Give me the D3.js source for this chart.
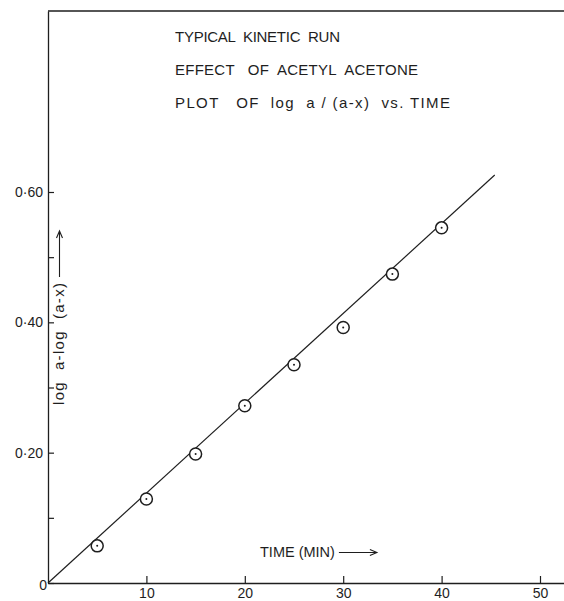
<!DOCTYPE html>
<html>
<head>
<meta charset="utf-8">
<script src="https://cdn.jsdelivr.net/npm/d3@7"></script>
<style>
  body { margin: 0; background: #fff; }
  svg { display: block; }
  text { font-family: "Liberation Sans", "DejaVu Sans", sans-serif; fill: #1e1e1e; }
</style>
</head>
<body>
<svg id="chart" width="564" height="601"></svg>
<script>
// data
const times = [5, 10, 15, 20, 25, 30, 35, 40];
const logRatio = [0.057, 0.129, 0.198, 0.272, 0.335, 0.392, 0.474, 0.545];

// drawn straight line (fit through origin)
const fitTime = [0, 45.4];
const fitValue = [0, 0.626];

const xTicks = [10, 20, 30, 40, 50];
const yTicks = [0, 0.1, 0.2, 0.3, 0.4, 0.5, 0.6];
const yLabelled = [0, 0.2, 0.4, 0.6];

const titleLines = [
  "TYPICAL  KINETIC  RUN",
  "EFFECT   OF  ACETYL  ACETONE",
  "PLOT   OF  log  a / (a-x)  vs. TIME"
];
// widths of the lettered title lines on the sheet
const titleWidths = [165, 243, 275];

const W = 564, H = 601;
const ink = "#1e1e1e";
const svg = d3.select("#chart");

// arrow drawn after a label, in the label's own frame
function arrowAfter(g, textSel, len, gap) {
  const set = +textSel.attr("textLength");
  const x0 = (set || textSel.node().getComputedTextLength()) + gap;
  const yMid = -4.5;
  g.append("path")
    .attr("d", `M${x0},${yMid}H${x0 + len}M${x0 + len - 7},${yMid - 3}L${x0 + len},${yMid}L${x0 + len - 7},${yMid + 3}`)
    .attr("fill", "none")
    .attr("stroke", ink)
    .attr("stroke-width", 1.1);
}

// scales
const x = d3.scaleLinear().domain([0, 50]).range([48, 540]);
const y = d3.scaleLinear().domain([0, 0.6]).range([583, 192]);

// axis scales run to the edges of the sheet
const xAxisScale = x.copy().domain([0, x.invert(W)]).range([48, W]);
const yAxisScale = y.copy().domain([0, y.invert(11)]).range([583, 11]);

// x axis, ticks pointing up
const gx = svg.append("g")
  .attr("transform", `translate(0, ${y(0)})`)
  .call(d3.axisBottom(xAxisScale)
    .tickValues(xTicks)
    .tickSize(-7)
    .tickSizeOuter(0)
    .tickPadding(5)
    .tickFormat(d3.format("d")));

// y axis, ticks pointing right, labels left
const gy = svg.append("g")
  .attr("transform", `translate(${x(0)}, 0)`)
  .call(d3.axisLeft(yAxisScale)
    .tickValues(yTicks)
    .tickSize(-6)
    .tickSizeOuter(0)
    .tickPadding(5)
    .tickFormat(d => {
      if (!yLabelled.includes(d)) return "";
      return d === 0 ? "0" : d3.format(".2f")(d).replace(".", "\u00b7");
    }));

[gx, gy].forEach(g => {
  g.select(".domain").attr("stroke", ink).attr("stroke-width", 1.3);
  g.selectAll(".tick line").attr("stroke", ink).attr("stroke-width", 1.2);
  g.selectAll(".tick text")
    .style("font-family", "'Liberation Sans', 'DejaVu Sans', sans-serif")
    .style("font-size", "14px")
    .attr("fill", ink);
});

// origin "0" sits a little lower, hugging the corner
gy.selectAll(".tick").filter(d => d === 0).select("text")
  .attr("dx", 4).attr("dy", "0.45em");
gx.selectAll(".tick text").attr("dy", "0.74em");

// top border of the sheet
const yTop = yAxisScale(yAxisScale.domain()[1]);
svg.append("line")
  .attr("x1", x(0)).attr("x2", W)
  .attr("y1", yTop).attr("y2", yTop)
  .attr("stroke", ink).attr("stroke-width", 1.3);

// fitted line
const line = d3.line().x(d => x(d[0])).y(d => y(d[1]));
svg.append("path")
  .datum(fitTime.map((t, i) => [t, fitValue[i]]))
  .attr("d", line)
  .attr("fill", "none")
  .attr("stroke", ink)
  .attr("stroke-width", 1.2);

// data points: open circle with centre dot
const pts = svg.append("g")
  .selectAll("g")
  .data(times.map((t, i) => ({ t, v: logRatio[i] })))
  .join("g")
  .attr("transform", d => `translate(${x(d.t)}, ${y(d.v)})`);

pts.append("circle")
  .attr("r", 6)
  .attr("fill", "#fff")
  .attr("stroke", ink)
  .attr("stroke-width", 1.5);

pts.append("circle")
  .attr("r", 1)
  .attr("fill", ink);

// title block
svg.append("g")
  .selectAll("text")
  .data(titleLines)
  .join("text")
  .attr("x", 175)
  .attr("y", (d, i) => 42 + i * 33)
  .attr("textLength", (d, i) => titleWidths[i])
  .attr("lengthAdjust", "spacing")
  .style("white-space", "pre")
  .style("font-size", "15px")
  .text(d => d);

// x axis title
const gxt = svg.append("g").attr("transform", "translate(260, 557)");
const xt = gxt.append("text")
  .style("font-size", "14.5px")
  .style("white-space", "pre")
  .text("TIME (MIN)");
arrowAfter(gxt, xt, 38, 4);

// y axis title
const gyt = svg.append("g").attr("transform", "translate(64, 405) rotate(-90)");
const yt = gyt.append("text")
  .style("font-size", "15px")
  .style("white-space", "pre")
  .attr("textLength", 122)
  .attr("lengthAdjust", "spacing")
  .text("log  a-log  (a-x)");
arrowAfter(gyt, yt, 46, 6);
</script>
</body>
</html>
